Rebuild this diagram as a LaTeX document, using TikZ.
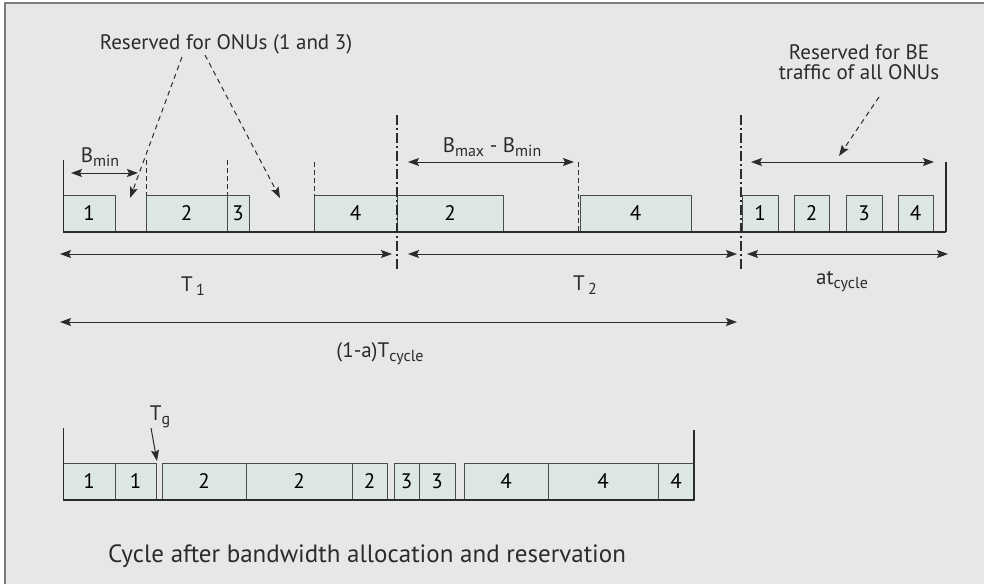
\documentclass[tikz,border=0pt]{standalone}
\usepackage{fontspec}
\setmainfont{PT Sans}
\usetikzlibrary{arrows.meta}
\definecolor{panel}{HTML}{E6E7E9}
\definecolor{frame}{HTML}{7A7B7D}
\definecolor{slotfill}{HTML}{DCE6E4}
\definecolor{ink}{HTML}{2B2B2B}
\newcommand\sublbl[1]{\raisebox{-0.4ex}{\fontsize{16}{18}\selectfont #1}}
\tikzset{
  slot/.style={draw=ink!85, fill=slotfill, line width=1pt, minimum height=37pt, inner sep=0pt, font=\fontsize{21}{24}\selectfont},
  lbl/.style={font=\fontsize{21}{24}\selectfont, inner sep=0pt, anchor=base, text=ink},
  dim/.style={<->, line width=1pt, draw=ink},
  hint/.style={->, line width=1pt, draw=ink, dash pattern=on 5pt off 4pt},
  tick/.style={line width=0.8pt, draw=ink, dash pattern=on 5pt off 3pt},
  cut/.style={line width=2.5pt, draw=ink, dash pattern=on 10pt off 3pt on 2pt off 3pt},
  base/.style={line width=2.2pt, draw=ink},
}
\begin{document}
\begin{tikzpicture}[x=1pt, y=-1pt, line join=round, >={Stealth[length=11pt,width=8pt,inset=2pt]}]
\useasboundingbox (0,0) rectangle (984,584);
\fill[white] (0,0) rectangle (984,584);
\fill[panel] (5,3) rectangle (984,584);
\draw[frame, line width=2pt] (5,584) -- (5,3) -- (984,3);

% top cycle
\foreach \a/\b/\n [count=\i] in {63/115/1,146/227/2,227/249/3,314/397/4,397/503/2,580/691/4,742/778/1,794/829/2,846/882/3,898/933/4}{
  \pgfmathsetmacro\w{\b-\a}
  \node[slot, minimum width=\w pt] (u\i) at ({(\a+\b)/2},213.5) {\n};
}
\draw[base] (63,232) -- (946,232);
\draw[ink, line width=1pt] (63,160) -- (63,232);
\draw[ink, line width=2pt] (946,162) -- (946,232);
\foreach \x/\y/\z in {146/160/195,227/160/195,314/162/195,578/162/232}
  \draw[tick] (\x,\y) -- (\x,\z);
\draw[cut] (397,115) -- (397,269);
\draw[cut] (741,115) -- (741,269);

% labels above
\node[lbl] (resv) at (226,49) {Reserved for ONUs (1 and 3)};
\node[lbl] (bmin) at (100,162) {B\sublbl{min}};
\node[lbl] (bdiff) at (492,152) {B\sublbl{max} - B\sublbl{min}};
\node[lbl] (beA) at (859,59) {Reserved for BE};
\node[lbl] (beB) at (859,79) {traffic of all ONUs};
\coordinate (r1) at (182,57);  \coordinate (g1) at (130,198);
\coordinate (r2) at (205,55);  \coordinate (g2) at (280,198);
\coordinate (r3) at (879,97);  \coordinate (g3) at (839,156);
\draw[hint] (r1) -- (g1);
\draw[hint] (r2) -- (g2);
\draw[hint] (r3) -- (g3);
\coordinate (b1) at (71,173);  \coordinate (b2) at (138,173);
\coordinate (d1) at (408,162); \coordinate (d2) at (574,162);
\coordinate (e1) at (751,162); \coordinate (e2) at (934,162);
\draw[dim] (b1) -- (b2);
\draw[dim] (d1) -- (d2);
\draw[dim] (e1) -- (e2);

% spans below
\coordinate (s0) at (60,254);  \coordinate (s1) at (392,254);
\coordinate (s2) at (408,254); \coordinate (s3) at (737,254);
\coordinate (s4) at (747,254); \coordinate (s5) at (948,254);
\coordinate (c0) at (60,322);  \coordinate (c1) at (737,322);
\draw[dim] (s0) -- (s1);
\draw[dim] (s2) -- (s3);
\draw[dim] (s4) -- (s5);
\draw[dim] (c0) -- (c1);
\node[lbl] (t1) at (193,291) {T\,\sublbl{1}};
\node[lbl] (t2) at (585,290) {T\,\sublbl{2}};
\node[lbl] (at) at (842,284) {at\sublbl{cycle}};
\node[lbl] (tc) at (380,357) {(1-a)T\sublbl{cycle}};

% cycle after allocation
\foreach \a/\b/\n [count=\i] in {63/115/1,115/156/1,162/246/2,246/352/2,352/387/2,394/419/3,419/455/3,464/548/4,548/658/4,658/694/4}{
  \pgfmathsetmacro\w{\b-\a}
  \node[slot, minimum width=\w pt] (v\i) at ({(\a+\b)/2},481.5) {\n};
}
\draw[base] (63,500) -- (694,500);
\draw[ink, line width=1pt] (63,428) -- (63,500);
\draw[ink, line width=2pt] (694,430) -- (694,500);
\node[lbl] (tg) at (160,420) {T\sublbl{g}};
\coordinate (q1) at (151,428); \coordinate (q2) at (157,461);
\draw[->, ink, line width=1pt] (q1) -- (q2);
\node[lbl, anchor=base west, font=\fontsize{25}{28}\selectfont] (cap) at (108,562) {Cycle after bandwidth allocation and reservation};
\end{tikzpicture}
\end{document}
